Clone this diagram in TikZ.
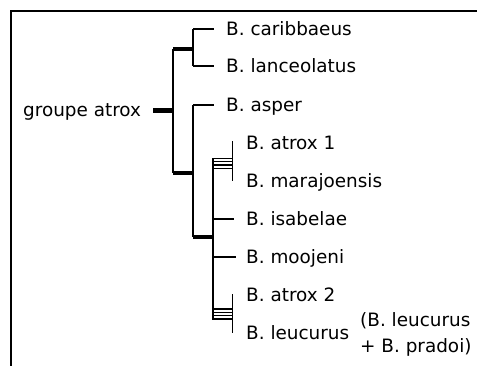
\documentclass[tikz,border=0pt]{standalone}
\usepackage{fontspec}
\setmainfont{DejaVu Sans}
\begin{document}
\begin{tikzpicture}[x=1pt,y=-1pt,
  lbl/.style={anchor=base west,inner sep=0pt,font=\fontsize{18.4}{20}\selectfont},
  lnthin/.style={line width=1.5pt},
  lnthick/.style={line width=4.5pt},
  hatch/.style={line width=1.2pt},
  frame/.style={line width=2pt}]
\useasboundingbox (0,0) rectangle (477,365);
\draw[frame] (11,366) -- (11,10.5) -- (478,10.5);
% labels
\node[lbl] (root) at (23,116.5) {groupe atrox};
\node[lbl] (car) at (226,35.5) {B. caribbaeus};
\node[lbl] (lan) at (226,72.5) {B. lanceolatus};
\node[lbl] (asp) at (226,111.5) {B. asper};
\node[lbl] (atr1) at (246,149.5) {B. atrox 1};
\node[lbl] (mar) at (246,187.5) {B. marajoensis};
\node[lbl] (isa) at (246,225.5) {B. isabelae};
\node[lbl] (moo) at (246,263.5) {B. moojeni};
\node[lbl] (atr2) at (246,301.5) {B. atrox 2};
\node[lbl] (leu) at (246,339.5) {B. leucurus};
\node[lbl] (note1) at (360,326) {(B. leucurus};
\node[lbl] (note2) at (360,352) {+ B. pradoi)};
% junction coordinates
\coordinate (r0) at (153,110.7);
\coordinate (r1) at (173,110.7);
\coordinate (a) at (173,49);
\coordinate (b) at (173,173);
\coordinate (a1) at (193,49);
\coordinate (b1) at (193,173);
\coordinate (c) at (193,237);
\coordinate (c1) at (213,237);
% root stub and first split
\draw[lnthick] (r0) -- (r1);
\draw[lnthin] (a) -- (b);
\draw[lnthick] (a) -- (a1);
\draw[lnthick] (b) -- (b1);
% caribbaeus / lanceolatus
\draw[lnthin] (193,29) -- (193,66);
\draw[lnthin] (193,29) -- (214,29);
\draw[lnthin] (193,66) -- (214,66);
% asper clade
\draw[lnthin] (193,105) -- (193,237);
\draw[lnthin] (193,105) -- (214,105);
\draw[lnthick] (c) -- (c1);
% atrox clade
\draw[lnthin] (213,158) -- (213,319.5);
\draw[lnthin] (213,219) -- (234,219);
\draw[lnthin] (213,257) -- (236,257);
% hatched bracket 1
\foreach \yy in {158.3,161.7,165,168.3} \draw[hatch] (213,\yy) -- (232.7,\yy);
\draw[lnthin] (232.7,141) -- (232.7,181);
% hatched bracket 2
\foreach \yy in {309,312.3,315.7,319} \draw[hatch] (213,\yy) -- (232.7,\yy);
\draw[lnthin] (232.7,294.3) -- (232.7,333);
\end{tikzpicture}
\end{document}
